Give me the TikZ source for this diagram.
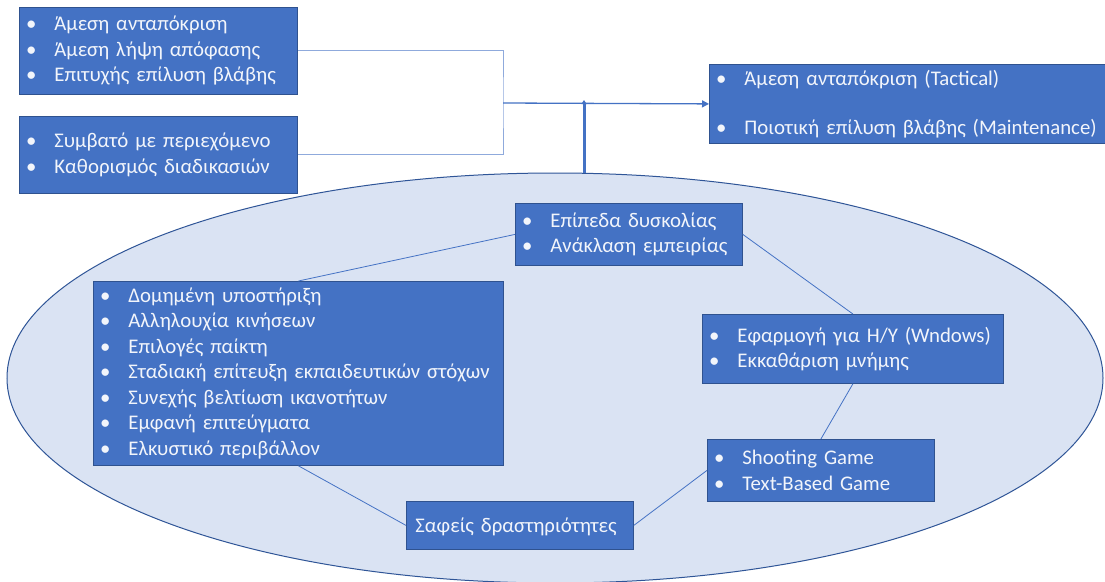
\documentclass[tikz,border=0pt]{standalone}
\usepackage{fontspec}
\setmainfont{Carlito}
\usetikzlibrary{shapes.geometric,arrows.meta}
\definecolor{boxfill}{HTML}{4472C4}
\definecolor{boxline}{HTML}{2F528F}
\definecolor{ellfill}{HTML}{DAE3F3}
\definecolor{ellline}{HTML}{2F5597}
\definecolor{linkline}{HTML}{4472C4}
\definecolor{bracketline}{HTML}{8FAADC}
\definecolor{boxtext}{HTML}{F2F5FB}
% bullet item: bullet centred in the first 24pt, text from 35pt
\newcommand\itm{\makebox[24pt][c]{\textbullet}\hspace{11pt}}
\begin{document}
\begin{tikzpicture}[x=1pt,y=-1pt,
  box/.style={draw=boxline, line width=0.8pt, fill=boxfill, text=boxtext,
    font=\fontsize{20.8}{25.5}\selectfont, inner sep=0pt, align=left,
    anchor=north west},
  link/.style={draw=linkline, line width=0.8pt},
  bracket/.style={draw=bracketline, line width=1pt}]
\useasboundingbox[fill=white] (0,0) rectangle (1105,581);

% large ellipse holding the design elements
\node[ellipse, draw=ellline, line width=1pt, fill=ellfill, inner sep=0pt,
  minimum width=1096pt, minimum height=410pt] (ell) at (555,378) {};

% top-left requirement boxes
\node[box, text width=278pt, minimum height=87pt] (A) at (19,7)
  {\itm Άμεση ανταπόκριση\\ \itm Άμεση λήψη απόφασης\\ \itm Επιτυχής επίλυση βλάβης};
\node[box, text width=278pt, minimum height=77pt] (B) at (19,116)
  {\itm Συμβατό με περιεχόμενο\\ \itm Καθορισμός διαδικασιών};

% outcome box
\node[box, text width=400pt, minimum height=79pt] (R) at (709,64)
  {\itm Άμεση ανταπόκριση (Tactical)\\[23.5pt] \itm Ποιοτική επίλυση βλάβης (Maintenance)};

% boxes inside the ellipse
\node[box, text width=227pt, minimum height=62pt] (E) at (515,203)
  {\itm Επίπεδα δυσκολίας\\ \itm Ανάκλαση εμπειρίας};
\node[box, text width=410pt, minimum height=184pt] (L) at (93,281)
  {\itm Δομημένη υποστήριξη\\ \itm Αλληλουχία κινήσεων\\ \itm Επιλογές παίκτη\\
   \itm Σταδιακή επίτευξη εκπαιδευτικών στόχων\\ \itm Συνεχής βελτίωση ικανοτήτων\\
   \itm Εμφανή επιτεύγματα\\ \itm Ελκυστικό περιβάλλον};
\node[box, text width=301pt, minimum height=69pt] (W) at (702,314)
  {\itm Εφαρμογή για H/Y (Wndows)\\ \itm Εκκαθάριση μνήμης};
\node[box, text width=227pt, minimum height=62pt] (S) at (707,439)
  {\itm Shooting Game\\ \itm Text-Based Game};
\node[box, text width=227pt, minimum height=48pt, text depth=0pt] (D) at (406,501)
  {\hspace{9pt}Σαφείς δραστηριότητες};

% ring of links between the inner boxes
\draw[link] (L.north) -- (E.west);
\draw[link] (E.east) -- (W.north);
\draw[link] (W.south) -- (S.north);
\draw[link] (S.west) -- (D.east);
\draw[link] (D.west) -- (L.south);

% bracket joining the two requirement boxes
\coordinate (m) at (503,103);
\coordinate (j) at (584,103);
\draw[bracket] (A.east) -| (m) |- (B.east);
\draw[draw=linkline, line width=1.3pt, -{Triangle[length=7pt,width=7pt]}] (m) -- (R.west);

% thick arrow rising from the ellipse
\draw[draw=linkline, line width=3pt, -{Triangle[length=4pt,width=5pt]}]
  (584,173.3) -- ([yshift=3pt]j);
\end{tikzpicture}
\end{document}
